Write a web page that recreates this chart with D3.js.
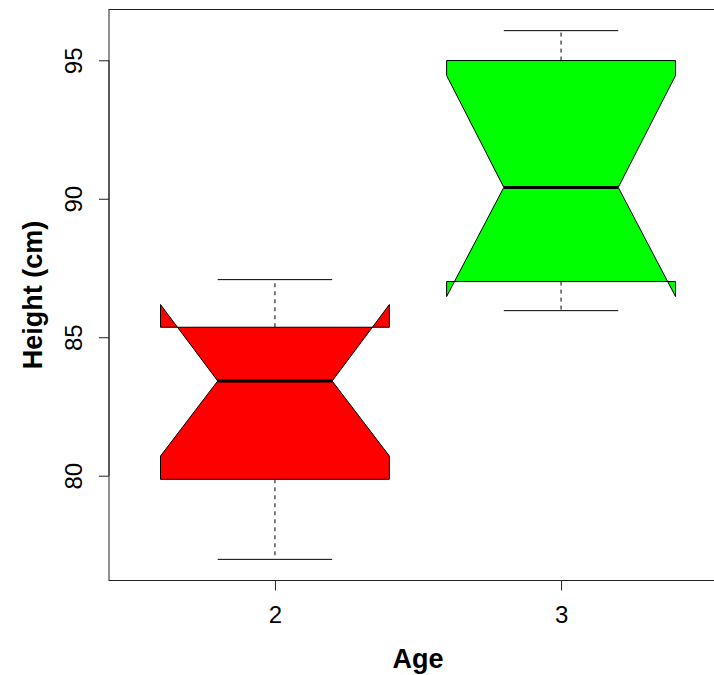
<!DOCTYPE html>
<html>
<head>
<meta charset="utf-8">
<script src="https://cdn.jsdelivr.net/npm/d3@7/dist/d3.min.js"></script>
<style>
  html, body { margin: 0; padding: 0; background: #ffffff; }
  svg { display: block; }
  text { font-family: "Liberation Sans", Arial, Helvetica, sans-serif; fill: #000; }
</style>
</head>
<body>
<svg id="chart" width="714" height="675"></svg>
<script>
// Height by age group: five-number summaries and notch limits
const ages        = ["2", "3"];
const whiskerLow  = [76.98, 85.96];
const q1          = [79.87, 87.01];
const medians     = [83.42, 90.41];
const q3          = [85.36, 94.99];
const whiskerHigh = [87.08, 96.07];
const notchLow    = [80.71, 86.47];
const notchHigh   = [86.18, 94.45];
const fills       = ["#ff0000", "#00ff00"];
const yTicks      = [80, 85, 90, 95];

const svg = d3.select("#chart");

// Plot region (the right edge of the frame runs past the canvas)
const plot = { left: 109, right: 727, top: 9.5, bottom: 580.5 };

// Category positions 1..n with R-style padding (0.5 each side, plus 4%)
const n = ages.length;
const xLo = 0.5, xHi = n + 0.5, xPad = (xHi - xLo) * 0.04;
const x = d3.scaleLinear()
  .domain([xLo - xPad, xHi + xPad])
  .range([plot.left, plot.right]);

const yMin = d3.min(whiskerLow), yMax = d3.max(whiskerHigh);
const yPad = (yMax - yMin) * 0.04;
const y = d3.scaleLinear()
  .domain([yMin - yPad, yMax + yPad])
  .range([plot.bottom, plot.top]);

const boxes = ages.map((a, i) => ({
  age: a, pos: i + 1,
  lo: whiskerLow[i], q1: q1[i], med: medians[i], q3: q3[i], hi: whiskerHigh[i],
  nlo: notchLow[i], nhi: notchHigh[i], fill: fills[i]
}));

const boxHalf = 0.4;      // half of box width in category units
const notchHalf = 0.2;    // half-width at the median
const stapleHalf = 0.2;   // half-width of whisker caps

const g = svg.append("g");

boxes.forEach(b => {
  // dashed whiskers
  g.append("line")
    .attr("x1", x(b.pos)).attr("x2", x(b.pos))
    .attr("y1", y(b.q3)).attr("y2", y(b.hi))
    .attr("stroke", "#000").attr("stroke-width", 1)
    .attr("stroke-dasharray", "4,4");
  g.append("line")
    .attr("x1", x(b.pos)).attr("x2", x(b.pos))
    .attr("y1", y(b.q1)).attr("y2", y(b.lo))
    .attr("stroke", "#000").attr("stroke-width", 1)
    .attr("stroke-dasharray", "4,4");
  // caps
  [b.lo, b.hi].forEach(v => {
    g.append("line")
      .attr("x1", x(b.pos - stapleHalf)).attr("x2", x(b.pos + stapleHalf))
      .attr("y1", y(v)).attr("y2", y(v))
      .attr("stroke", "#000").attr("stroke-width", 1);
  });
  // notched box polygon
  const pts = [
    [b.pos - boxHalf, b.q1], [b.pos - boxHalf, b.nlo], [b.pos - notchHalf, b.med],
    [b.pos - boxHalf, b.nhi], [b.pos - boxHalf, b.q3],
    [b.pos + boxHalf, b.q3], [b.pos + boxHalf, b.nhi], [b.pos + notchHalf, b.med],
    [b.pos + boxHalf, b.nlo], [b.pos + boxHalf, b.q1]
  ];
  g.append("path")
    .attr("d", d3.line().x(p => x(p[0])).y(p => y(p[1]))(pts) + "Z")
    .attr("fill", b.fill)
    .attr("stroke", "#000").attr("stroke-width", 1)
    .attr("stroke-linejoin", "miter");
  // median
  g.append("line")
    .attr("x1", x(b.pos - notchHalf)).attr("x2", x(b.pos + notchHalf))
    .attr("y1", y(b.med)).attr("y2", y(b.med))
    .attr("stroke", "#000").attr("stroke-width", 3);
});

// Frame
svg.append("rect")
  .attr("x", plot.left).attr("y", plot.top)
  .attr("width", plot.right - plot.left).attr("height", plot.bottom - plot.top)
  .attr("fill", "none").attr("stroke", "#222").attr("stroke-width", 1);

// Y axis: ticks with labels parallel to the axis
const yAxis = svg.append("g").attr("transform", `translate(${plot.left},0)`)
  .call(d3.axisLeft(y).tickValues(yTicks).tickSize(10).tickSizeOuter(0).tickFormat(d3.format("d")));
yAxis.select(".domain")
  .attr("d", `M0,${y(yTicks[0])}V${y(yTicks[yTicks.length - 1])}`)
  .attr("stroke", "#222");
yAxis.selectAll(".tick line").attr("stroke", "#222");
yAxis.selectAll(".tick text")
  .attr("x", null).attr("dy", null)
  .attr("transform", "translate(-27,0) rotate(-90)")
  .attr("text-anchor", "middle")
  .attr("font-size", 24)
  .attr("font-family", "Liberation Sans, Arial, sans-serif")
  .attr("fill", "#000");

// X axis: category ticks
const xAxis = svg.append("g").attr("transform", `translate(0,${plot.bottom})`)
  .call(d3.axisBottom(x).tickValues(boxes.map(b => b.pos)).tickSize(10).tickSizeOuter(0)
    .tickFormat((d, i) => ages[i]));
xAxis.select(".domain").remove();
xAxis.selectAll(".tick line").attr("stroke", "#222");
xAxis.selectAll(".tick text")
  .attr("y", 42).attr("dy", null)
  .attr("font-size", 24)
  .attr("font-family", "Liberation Sans, Arial, sans-serif")
  .attr("fill", "#000");

// Axis titles
svg.append("text")
  .attr("x", (plot.left + plot.right) / 2).attr("y", 667.5)
  .attr("text-anchor", "middle")
  .attr("font-size", 27).attr("font-weight", "bold")
  .text("Age");

svg.append("text")
  .attr("transform", `translate(42,${(plot.top + plot.bottom) / 2}) rotate(-90)`)
  .attr("text-anchor", "middle")
  .attr("font-size", 27).attr("font-weight", "bold")
  .text("Height (cm)");
</script>
</body>
</html>
